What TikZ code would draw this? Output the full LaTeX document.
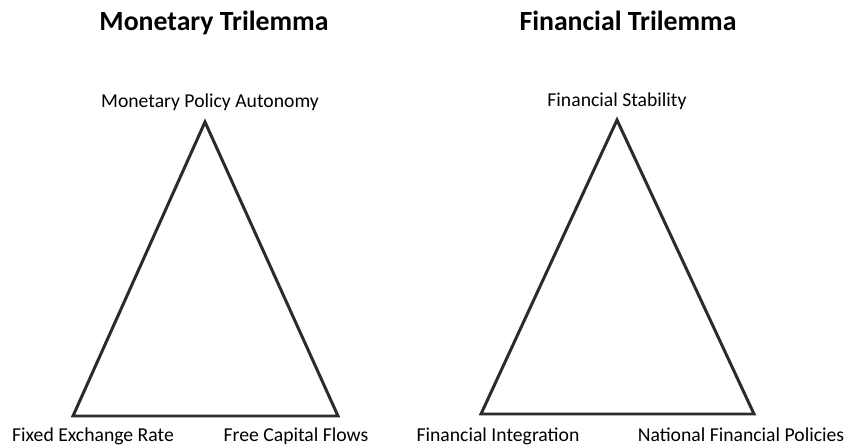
\documentclass[tikz,border=0pt]{standalone}
\usepackage{fontspec}
\setmainfont{Carlito}
\usetikzlibrary{positioning}
\tikzset{>=stealth}
\definecolor{edgegray}{HTML}{2B2B2B}
\tikzset{
  side/.style={draw=edgegray,line width=1.7pt,line join=miter},
  corner/.style={font=\fontsize{11.2}{13}\selectfont,inner sep=0pt,anchor=base},
  heading/.style={font=\fontsize{15.8}{18}\selectfont\bfseries,inner sep=0pt,anchor=base}
}

\begin{document}
\begin{tikzpicture}[x=0.02cm,y=-0.02cm]
\useasboundingbox (0,0) rectangle (859,448);
% monetary trilemma
\coordinate (mtop) at (205,122);
\coordinate (mleft) at (73,416);
\coordinate (mright) at (338,416);
\draw[side] (mtop)--(mleft)--(mright)--cycle;
\node[heading] (mtitle) at (214,31) {Monetary Trilemma};
\node[corner] (mauto) at (210,108) {Monetary Policy Autonomy};
\node[corner] (mfix) at (93,442) {Fixed Exchange Rate};
\node[corner] (mflow) at (296,442) {Free Capital Flows};
% financial trilemma
\coordinate (ftop) at (617,120);
\coordinate (fleft) at (481,414);
\coordinate (fright) at (754,414);
\draw[side] (ftop)--(fleft)--(fright)--cycle;
\node[heading] (ftitle) at (628,31) {Financial Trilemma};
\node[corner] (fstab) at (617,107) {Financial Stability};
\node[corner] (finteg) at (498,442) {Financial Integration};
\node[corner] (fpol) at (741,442) {National Financial Policies};
\end{tikzpicture}
\end{document}
